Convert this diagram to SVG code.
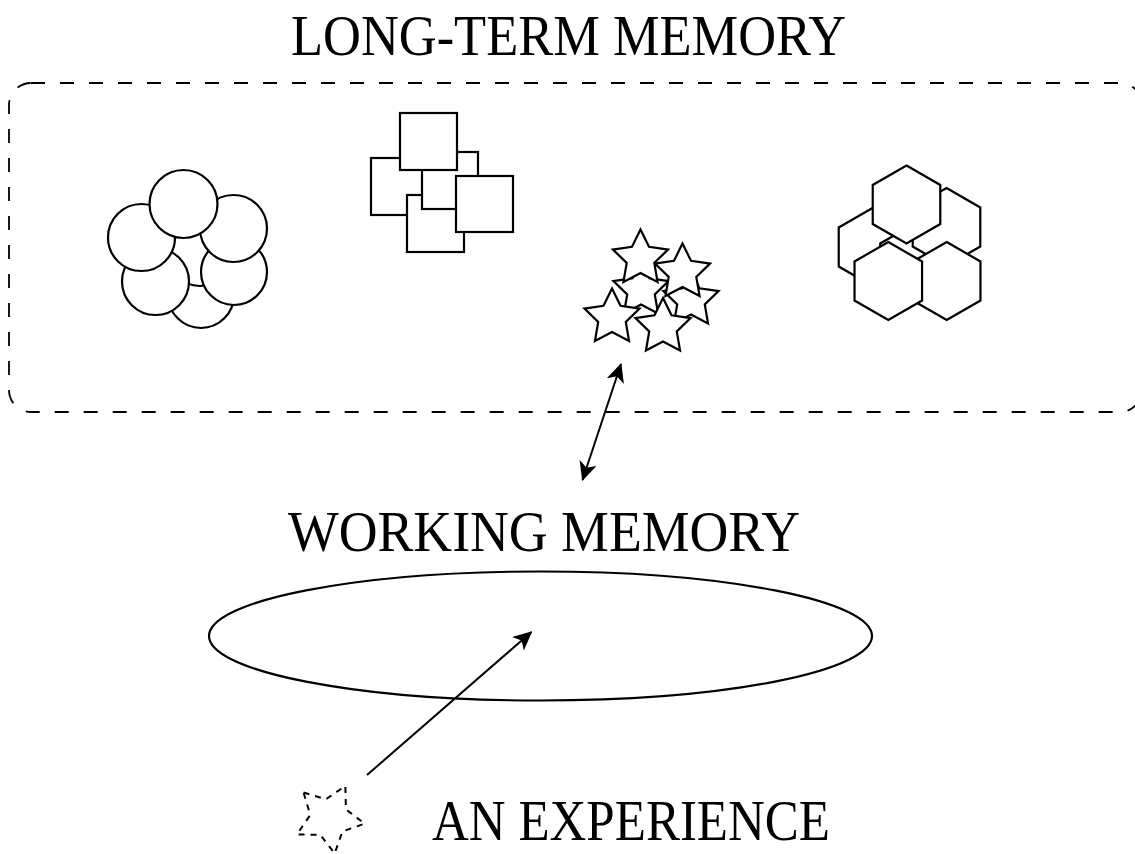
<svg xmlns="http://www.w3.org/2000/svg" xmlns:xlink="http://www.w3.org/1999/xlink" width="1135" height="854" viewBox="0 0 1135 854">
<style>
  .shape { fill: #ffffff; stroke: #000000; stroke-width: 2.2; }
  .label { font-family: "Liberation Serif", "DejaVu Serif", serif; font-size: 58px; fill: #000000; }
  .conn { fill: none; stroke: #000000; stroke-width: 2; }
  .dashbox { fill: none; stroke: #000000; stroke-width: 1.8; stroke-dasharray: 14 15; }
</style>
<defs>
  <path id="star" d="M0,-29 L8.52,-11.73 L27.58,-8.96 L13.79,4.48 L17.05,23.46 L0,14.5 L-17.05,23.46 L-13.79,4.48 L-27.58,-8.96 L-8.52,-11.73 Z"/>
  <path id="hex" d="M0,-39 L33.77,-19.5 L33.77,19.5 L0,39 L-33.77,19.5 L-33.77,-19.5 Z"/>
  <marker id="arrow" viewBox="0 0 19 18" markerWidth="19" markerHeight="18" refX="18" refY="9" orient="auto-start-reverse" markerUnits="userSpaceOnUse">
    <path d="M0,0 L19,9 L0,18 L5,9 Z" fill="#000000"/>
  </marker>
</defs>
<rect width="1135" height="854" fill="#ffffff"/>

<g id="long-term-memory">
  <rect class="dashbox" x="9" y="83" width="1133" height="329" rx="22" ry="22"/>
  <text class="label" x="291" y="55" textLength="555" lengthAdjust="spacingAndGlyphs">LONG-TERM MEMORY</text>
</g>

<g id="circles">
  <circle class="shape" cx="201" cy="295" r="33"/>
  <circle class="shape" cx="200" cy="253" r="33"/>
  <circle class="shape" cx="155.5" cy="281.5" r="33.5"/>
  <circle class="shape" cx="234" cy="272" r="33"/>
  <circle class="shape" cx="141.5" cy="237.5" r="33.5"/>
  <circle class="shape" cx="233.5" cy="228.5" r="33.5"/>
  <circle class="shape" cx="183.5" cy="204" r="34"/>
</g>

<g id="squares">
  <rect class="shape" x="371" y="158" width="57" height="57"/>
  <rect class="shape" x="407" y="195" width="57" height="57"/>
  <rect class="shape" x="422" y="152" width="56" height="57"/>
  <rect class="shape" x="400" y="113" width="57" height="57"/>
  <rect class="shape" x="456" y="176" width="57" height="56"/>
</g>

<g id="stars">
  <use xlink:href="#star" class="shape" transform="translate(641,290)"/>
  <use xlink:href="#star" class="shape" transform="translate(691,300)"/>
  <use xlink:href="#star" class="shape" transform="translate(663,327)"/>
  <use xlink:href="#star" class="shape" transform="translate(682.5,272.5)"/>
  <use xlink:href="#star" class="shape" transform="translate(640.5,258.5)"/>
  <use xlink:href="#star" class="shape" transform="translate(612,317.5)"/>
</g>

<g id="hexagons">
  <use xlink:href="#hex" class="shape" transform="translate(872.5,247)"/>
  <use xlink:href="#hex" class="shape" transform="translate(914,263)"/>
  <use xlink:href="#hex" class="shape" transform="translate(946.5,227)"/>
  <use xlink:href="#hex" class="shape" transform="translate(906.5,204.5)"/>
  <use xlink:href="#hex" class="shape" transform="translate(946.7,281)"/>
  <use xlink:href="#hex" class="shape" transform="translate(888.3,281)"/>
</g>

<g id="working-memory">
  <text class="label" x="288" y="551" textLength="512" lengthAdjust="spacingAndGlyphs">WORKING MEMORY</text>
  <ellipse class="shape" cx="540.5" cy="636" rx="331.5" ry="64.5" style="fill:none"/>
</g>

<g id="experience">
  <path transform="translate(329,818) rotate(-45)" fill="none" stroke="#000000" stroke-width="2" stroke-dasharray="6 6" d="M0,-36 L11.17,-15.37 L34.24,-11.12 L18.07,5.87 L21.16,29.12 L0,19 L-21.16,29.12 L-18.07,5.87 L-34.24,-11.12 L-11.17,-15.37 Z"/>
  <text class="label" x="432" y="840" textLength="398" lengthAdjust="spacingAndGlyphs">AN EXPERIENCE</text>
</g>

<g id="connectors">
  <line class="conn" x1="582.5" y1="480" x2="621" y2="364" marker-start="url(#arrow)" marker-end="url(#arrow)"/>
  <line class="conn" x1="367" y1="775" x2="531.5" y2="632" marker-end="url(#arrow)"/>
</g>
</svg>
